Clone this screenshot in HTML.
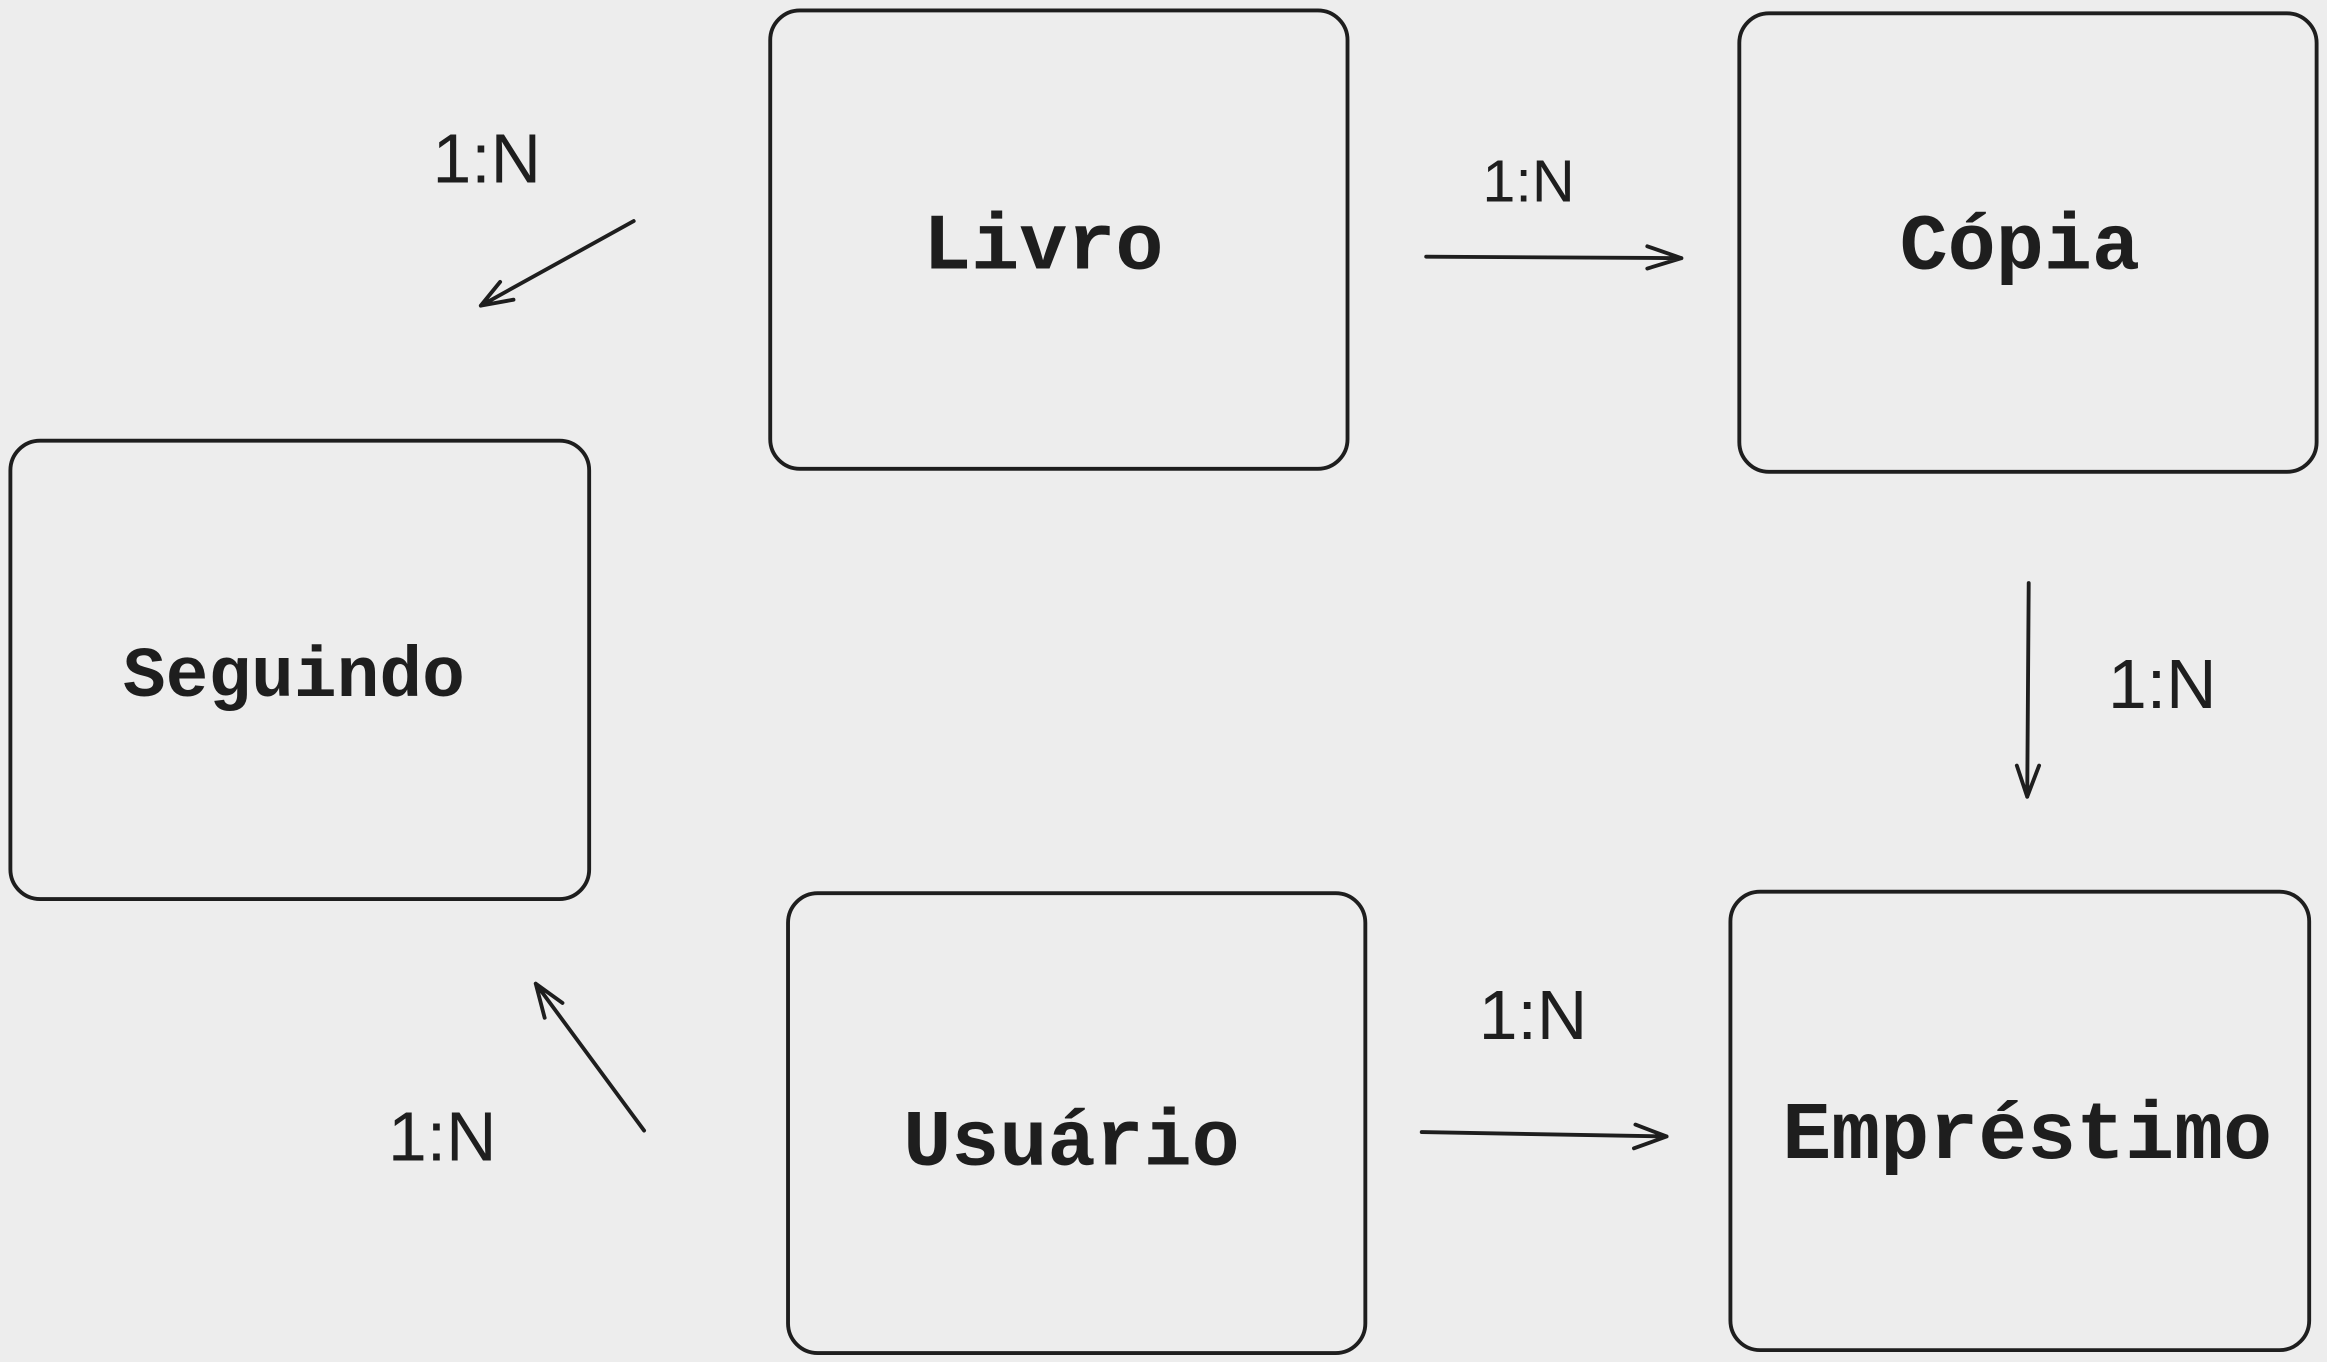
<!DOCTYPE html>
<html><head><meta charset="utf-8"><style>
html,body{margin:0;padding:0;background:#ededed;}
svg{display:block;}
.b{fill:none;stroke:#1e1e1e;stroke-width:2.6;stroke-linecap:round;stroke-linejoin:round;}
.t{font-family:"Liberation Mono",monospace;fill:#1e1e1e;text-anchor:middle;dominant-baseline:central;font-weight:bold;}
.l{font-family:"Liberation Sans",sans-serif;fill:#1e1e1e;text-anchor:middle;dominant-baseline:central;}
</style></head><body>
<svg width="2327" height="1362" viewBox="0 0 1568 918" preserveAspectRatio="none" xmlns="http://www.w3.org/2000/svg">
<rect width="1568" height="918" fill="#ededed"/>
<rect class="b" x="519" y="7" width="389" height="309" rx="20"/>
<rect class="b" x="1172" y="9" width="389" height="309" rx="20"/>
<rect class="b" x="7" y="297" width="390" height="309" rx="20"/>
<rect class="b" x="531" y="602" width="389" height="310" rx="20"/>
<rect class="b" x="1166" y="601" width="390" height="309" rx="20"/>
<text class="t" x="703" y="167" font-size="54">Livro</text>
<text class="t" x="1361" y="167" font-size="54">Cópia</text>
<text class="t" x="198" y="457" font-size="48">Seguindo</text>
<text class="t" x="722" y="771" font-size="54">Usuário</text>
<text class="t" x="1366" y="766" font-size="55">Empréstimo</text>
<path class="b" d="M427 149 L324 206 M324 206 L337 190 M324 206 L346 202"/>
<path class="b" d="M961 173 L1133 174 M1133 174 L1110 166 M1133 174 L1110 181"/>
<path class="b" d="M1367 393 L1366 537 M1366 537 L1359 516 M1366 537 L1374 516"/>
<path class="b" d="M958 763 L1123 766 M1123 766 L1102 758 M1123 766 L1101 774"/>
<path class="b" d="M434 762 L361 663 M361 663 L367 686 M361 663 L379 676"/>
<text class="l" x="328" y="107" font-size="47">1:N</text>
<text class="l" x="1030" y="122" font-size="40">1:N</text>
<text class="l" x="1457" y="461" font-size="47">1:N</text>
<text class="l" x="1033" y="684" font-size="47">1:N</text>
<text class="l" x="298" y="766" font-size="47">1:N</text>
</svg>
</body></html>
